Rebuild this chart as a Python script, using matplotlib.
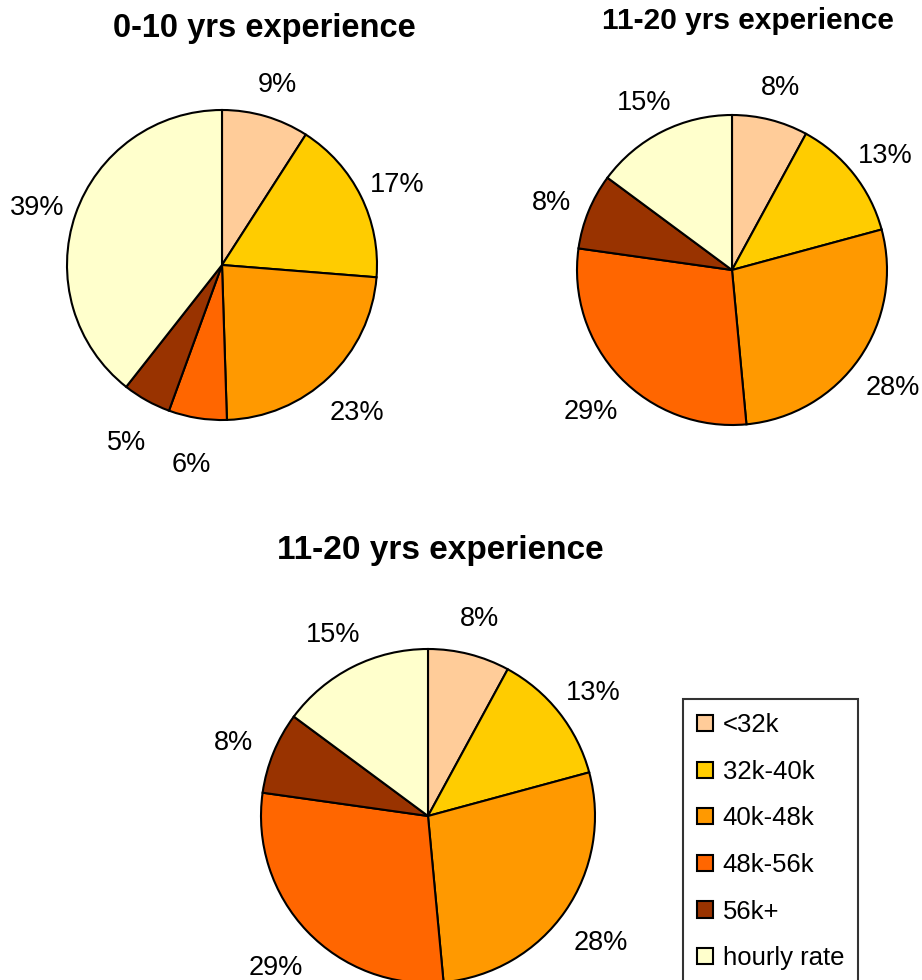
import matplotlib.pyplot as plt
from matplotlib.transforms import offset_copy

plt.rcParams['font.family'] = ['Liberation Sans', 'DejaVu Sans']

W, H = 922, 980

brackets = ['<32k', '32k-40k', '40k-48k', '48k-56k', '56k+', 'hourly rate']
colours = ['#FFCC99', '#FFCC00', '#FF9900', '#FF6600', '#993300', '#FFFFCC']

share_0_10 = [9, 17, 23, 6, 5, 39]
share_11_20 = [8, 13, 28, 29, 8, 15]


def pie_axes(fig, cx, cy, r):
    # square axes centred on (cx, cy) in pixels, measured from the top-left
    ax = fig.add_axes([(cx - r) / W, 1 - (cy + r) / H, 2 * r / W, 2 * r / H])
    ax.axis('off')
    return ax


def draw_pie(ax, values):
    wedges, texts = ax.pie(
        values,
        colors=colours,
        labels=[f'{v}%' for v in values],
        labeldistance=1.26,
        startangle=90,
        counterclock=False,
        radius=1,
        wedgeprops=dict(edgecolor='black', linewidth=1.5),
        textprops=dict(fontsize=19.5),
    )
    # pie() pads the limits; keep the circle filling the axes box
    ax.set_xlim(-1, 1)
    ax.set_ylim(-1, 1)
    ax.set_aspect('equal')
    for t in texts:
        t.set_horizontalalignment('center')
        t.set_verticalalignment('center')
        # nudge labels down a little so the digits sit on the label point
        t.set_transform(offset_copy(ax.transData, fig=ax.figure,
                                    x=0, y=-7, units='dots'))
    return wedges


fig = plt.figure(figsize=(W / 100, H / 100), dpi=100)

ax1 = pie_axes(fig, 222, 265, 155)
draw_pie(ax1, share_0_10)
fig.text(264 / W, 1 - 29 / H, '0-10 yrs experience', ha='center', va='center',
         fontsize=23.5, fontweight='bold')

ax2 = pie_axes(fig, 732, 270, 155)
draw_pie(ax2, share_11_20)
fig.text(748 / W, 1 - 21 / H, '11-20 yrs experience', ha='center', va='center',
         fontsize=21.5, fontweight='bold')

ax3 = pie_axes(fig, 428, 816, 167)
wedges = draw_pie(ax3, share_11_20)
fig.text(440 / W, 1 - 551 / H, '11-20 yrs experience', ha='center', va='center',
         fontsize=24, fontweight='bold')

leg = fig.legend(wedges, brackets, loc='upper left',
                 bbox_to_anchor=(683 / W, 1 - 699 / H), borderaxespad=0,
                 fontsize=18.5, frameon=True, fancybox=False, edgecolor='black',
                 handlelength=0.6, handleheight=0.6, handletextpad=0.4,
                 labelspacing=0.88, borderpad=0.55)
leg.get_frame().set_linewidth(1.5)

fig.savefig('out.png', dpi=100)
